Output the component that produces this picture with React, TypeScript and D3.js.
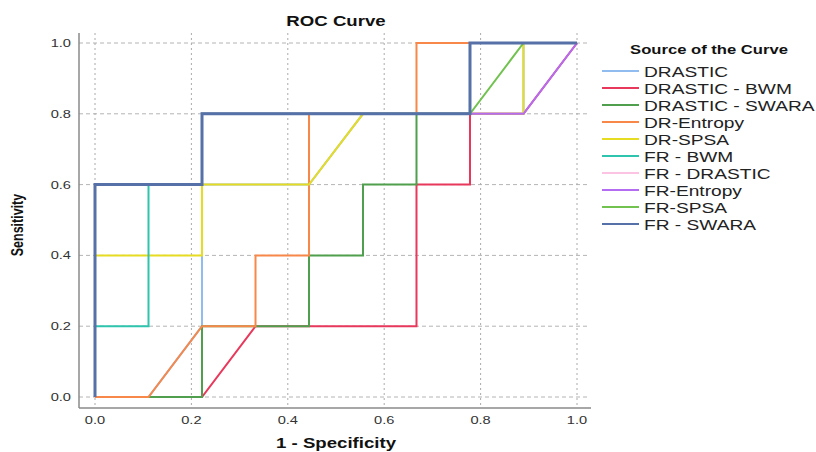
import React, { useEffect, useRef } from 'react';
import * as d3 from 'd3';

type Pt = [number, number];

const seriesNames = [
  'DRASTIC',
  'DRASTIC - BWM',
  'DRASTIC - SWARA',
  'DR-Entropy',
  'DR-SPSA',
  'FR - BWM',
  'FR - DRASTIC',
  'FR-Entropy',
  'FR-SPSA',
  'FR - SWARA',
];

const seriesColors = [
  '#90bcf0', '#e8385c', '#4f9f4f', '#f7884a', '#e6dc22',
  '#2ec4ae', '#fcc4e2', '#b46cf2', '#72c250', '#5670a8',
];

// ROC points: [1 - specificity, sensitivity]
const drastic: Pt[] = [[0, 0], [0.111, 0], [0.222, 0.2], [0.222, 0.6], [0.444, 0.6], [0.556, 0.8], [0.889, 0.8], [0.889, 1], [1, 1]];
const drasticBwm: Pt[] = [[0, 0], [0.222, 0], [0.333, 0.2], [0.667, 0.2], [0.667, 0.6], [0.778, 0.6], [0.778, 0.8], [0.889, 0.8], [1, 1]];
const drasticSwara: Pt[] = [[0, 0], [0.222, 0], [0.222, 0.2], [0.444, 0.2], [0.444, 0.4], [0.556, 0.4], [0.556, 0.6], [0.667, 0.6], [0.667, 0.8], [0.778, 0.8], [0.778, 1], [1, 1]];
const drEntropy: Pt[] = [[0, 0], [0.111, 0], [0.222, 0.2], [0.333, 0.2], [0.333, 0.4], [0.444, 0.4], [0.444, 0.8], [0.667, 0.8], [0.667, 1], [1, 1]];
const drSpsa: Pt[] = [[0, 0], [0, 0.4], [0.222, 0.4], [0.222, 0.6], [0.444, 0.6], [0.556, 0.8], [0.889, 0.8], [0.889, 1], [1, 1]];
const frBwm: Pt[] = [[0, 0], [0, 0.2], [0.111, 0.2], [0.111, 0.6], [0.222, 0.6], [0.222, 0.8], [0.778, 0.8], [0.778, 1], [1, 1]];
const frDrastic: Pt[] = [[0, 0], [0, 0.6], [0.222, 0.6], [0.222, 0.8], [0.778, 0.8], [0.778, 1], [1, 1]];
const frEntropy: Pt[] = [[0, 0], [0, 0.6], [0.222, 0.6], [0.222, 0.8], [0.889, 0.8], [1, 1]];
const frSpsa: Pt[] = [[0, 0], [0, 0.6], [0.222, 0.6], [0.222, 0.8], [0.778, 0.8], [0.889, 1], [1, 1]];
const frSwara: Pt[] = [[0, 0], [0, 0.6], [0.222, 0.6], [0.222, 0.8], [0.778, 0.8], [0.778, 1], [1, 1]];

const seriesPoints = [drastic, drasticBwm, drasticSwara, drEntropy, drSpsa, frBwm, frDrastic, frEntropy, frSpsa, frSwara];

const tickValues = [0, 0.2, 0.4, 0.6, 0.8, 1.0];

const W = 816;
const H = 452;
const FONT = '"Liberation Sans", Arial, sans-serif';
const SX = 1.33; // the reference text is stretched horizontally

const App: React.FC = () => {
  const svgRef = useRef<SVGSVGElement>(null);

  useEffect(() => {
    if (!svgRef.current) return;
    const svg = d3.select(svgRef.current);
    svg.selectAll('*').remove();

    const x = d3.scaleLinear().domain([0, 1]).range([95, 577]);
    const y = d3.scaleLinear().domain([0, 1]).range([397, 43]);

    const left = 79, right = 591, top = 33, bottom = 408;

    svg.append('rect').attr('width', W).attr('height', H).attr('fill', '#fff');

    // grid
    const grid = svg.append('g');
    grid.selectAll('.hg').data(tickValues).enter().append('line')
      .attr('x1', left).attr('x2', right - 2)
      .attr('y1', d => y(d)).attr('y2', d => y(d))
      .attr('stroke', '#b4b4b4').attr('stroke-width', 1).attr('stroke-dasharray', '4,3');
    grid.selectAll('.vg').data(tickValues).enter().append('line')
      .attr('x1', d => x(d)).attr('x2', d => x(d))
      .attr('y1', top).attr('y2', bottom)
      .attr('stroke', '#aaaaaa').attr('stroke-width', 1).attr('stroke-dasharray', '2,3');

    // axis lines
    svg.append('line').attr('x1', left).attr('x2', left).attr('y1', top).attr('y2', bottom)
      .attr('stroke', '#8a8a8a').attr('stroke-width', 1.5);
    svg.append('line').attr('x1', left).attr('x2', right).attr('y1', bottom).attr('y2', bottom)
      .attr('stroke', '#8a8a8a').attr('stroke-width', 1.5);

    // tick labels
    svg.selectAll('.xt').data(tickValues).enter().append('text')
      .attr('transform', d => `translate(${x(d)},424) scale(${SX},1)`)
      .attr('text-anchor', 'middle')
      .style('font-family', FONT).style('font-size', '11px').attr('fill', '#333')
      .text(d => d.toFixed(1));
    svg.selectAll('.yt').data(tickValues).enter().append('text')
      .attr('transform', d => `translate(71,${y(d) + 4}) scale(${SX},1)`)
      .attr('text-anchor', 'end')
      .style('font-family', FONT).style('font-size', '11px').attr('fill', '#333')
      .text(d => d.toFixed(1));

    // curves
    const line = d3.line<Pt>().x(d => x(d[0])).y(d => y(d[1]));
    seriesPoints.forEach((pts, i) => {
      svg.append('path')
        .attr('d', line(pts) as string)
        .attr('fill', 'none')
        .attr('stroke', seriesColors[i])
        .attr('stroke-width', i === seriesPoints.length - 1 ? 3 : 2)
        .attr('stroke-linejoin', 'miter');
    });

    // titles
    svg.append('text')
      .attr('transform', `translate(336,26) scale(${SX},1)`)
      .attr('text-anchor', 'middle')
      .style('font-family', FONT).style('font-size', '14px').style('font-weight', 'bold')
      .attr('fill', '#111').text('ROC Curve');
    svg.append('text')
      .attr('transform', `translate(336,448) scale(${SX},1)`)
      .attr('text-anchor', 'middle')
      .style('font-family', FONT).style('font-size', '14px').style('font-weight', 'bold')
      .attr('fill', '#111').text('1 - Specificity');
    svg.append('text')
      .attr('transform', `translate(23,225) scale(${SX},1) rotate(-90)`)
      .attr('text-anchor', 'middle')
      .style('font-family', FONT).style('font-size', '12.5px').style('font-weight', 'bold')
      .attr('fill', '#111').text('Sensitivity');

    // legend
    const legend = svg.append('g');
    legend.append('text')
      .attr('transform', `translate(709,54) scale(${SX},1)`)
      .attr('text-anchor', 'middle')
      .style('font-family', FONT).style('font-size', '12.5px').style('font-weight', 'bold')
      .attr('fill', '#111').text('Source of the Curve');
    const items = legend.selectAll('.li').data(seriesNames).enter().append('g')
      .attr('transform', (d, i) => `translate(0,${77 + i * 17})`);
    items.append('line')
      .attr('x1', 602).attr('x2', 639).attr('y1', -6).attr('y2', -6)
      .attr('stroke', (d, i) => seriesColors[i]).attr('stroke-width', 2);
    items.append('text')
      .attr('transform', `translate(644,0) scale(${SX},1)`)
      .style('font-family', FONT).style('font-size', '14.4px')
      .attr('fill', '#222').text(d => d);
  }, []);

  return (
    <svg
      ref={svgRef}
      width={W}
      height={H}
      style={{ position: 'absolute', left: 0, top: 0, display: 'block' }}
    />
  );
};

export default App;
